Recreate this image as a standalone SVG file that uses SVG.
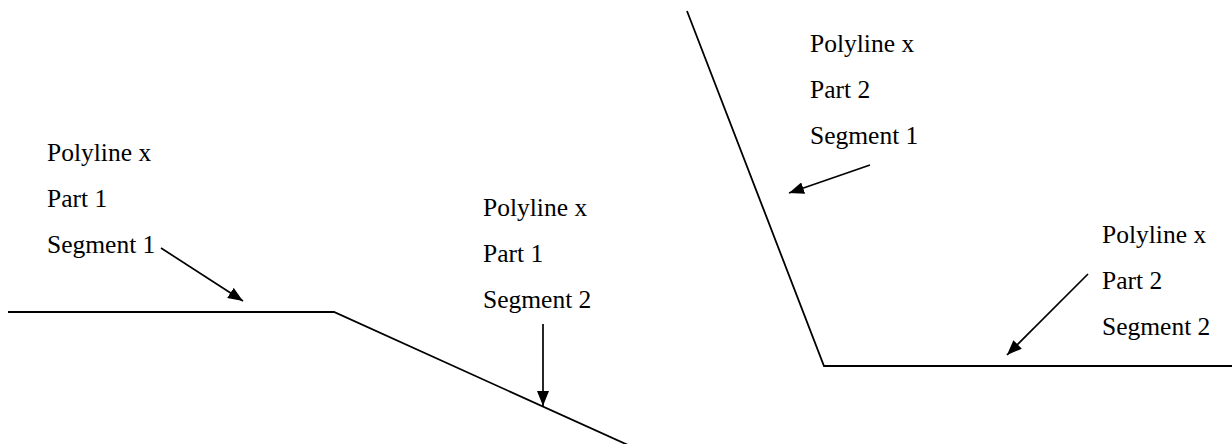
<svg xmlns="http://www.w3.org/2000/svg" width="1232" height="444" viewBox="0 0 1232 444">
<style>
text{font-family:"Liberation Serif","Times New Roman",serif;font-size:25.5px;fill:#000}
.ln{fill:none;stroke:#000;stroke-width:1.8}
.ar{fill:none;stroke:#000;stroke-width:1.7;marker-end:url(#ah)}
</style>
<defs>
<marker id="ah" viewBox="0 0 15 12" refX="15" refY="6" markerWidth="15" markerHeight="12" markerUnits="userSpaceOnUse" orient="auto">
<path d="M0,0 L15,6 L0,12 Z" fill="#000"/>
</marker>
</defs>
<g id="polylines">
<polyline class="ln" points="8,312 334,312 628,445"/>
<polyline class="ln" points="687,11 824,366 1232,366"/>
</g>
<g id="label-p1s1"><text x="47" y="161">Polyline x</text><text x="47" y="207">Part 1</text><text x="47" y="253">Segment 1</text></g>
<g id="label-p1s2"><text x="483" y="216">Polyline x</text><text x="483" y="262">Part 1</text><text x="483" y="308">Segment 2</text></g>
<g id="label-p2s1"><text x="810" y="52">Polyline x</text><text x="810" y="98">Part 2</text><text x="810" y="144">Segment 1</text></g>
<g id="label-p2s2"><text x="1102" y="243">Polyline x</text><text x="1102" y="289">Part 2</text><text x="1102" y="335">Segment 2</text></g>
<g id="connectors">
<line class="ar" x1="161" y1="248" x2="243" y2="301"/>
<line class="ar" x1="543" y1="324" x2="543" y2="406"/>
<line class="ar" x1="870" y1="165" x2="789" y2="193"/>
<line class="ar" x1="1088" y1="274" x2="1007" y2="355"/>
</g>
</svg>
